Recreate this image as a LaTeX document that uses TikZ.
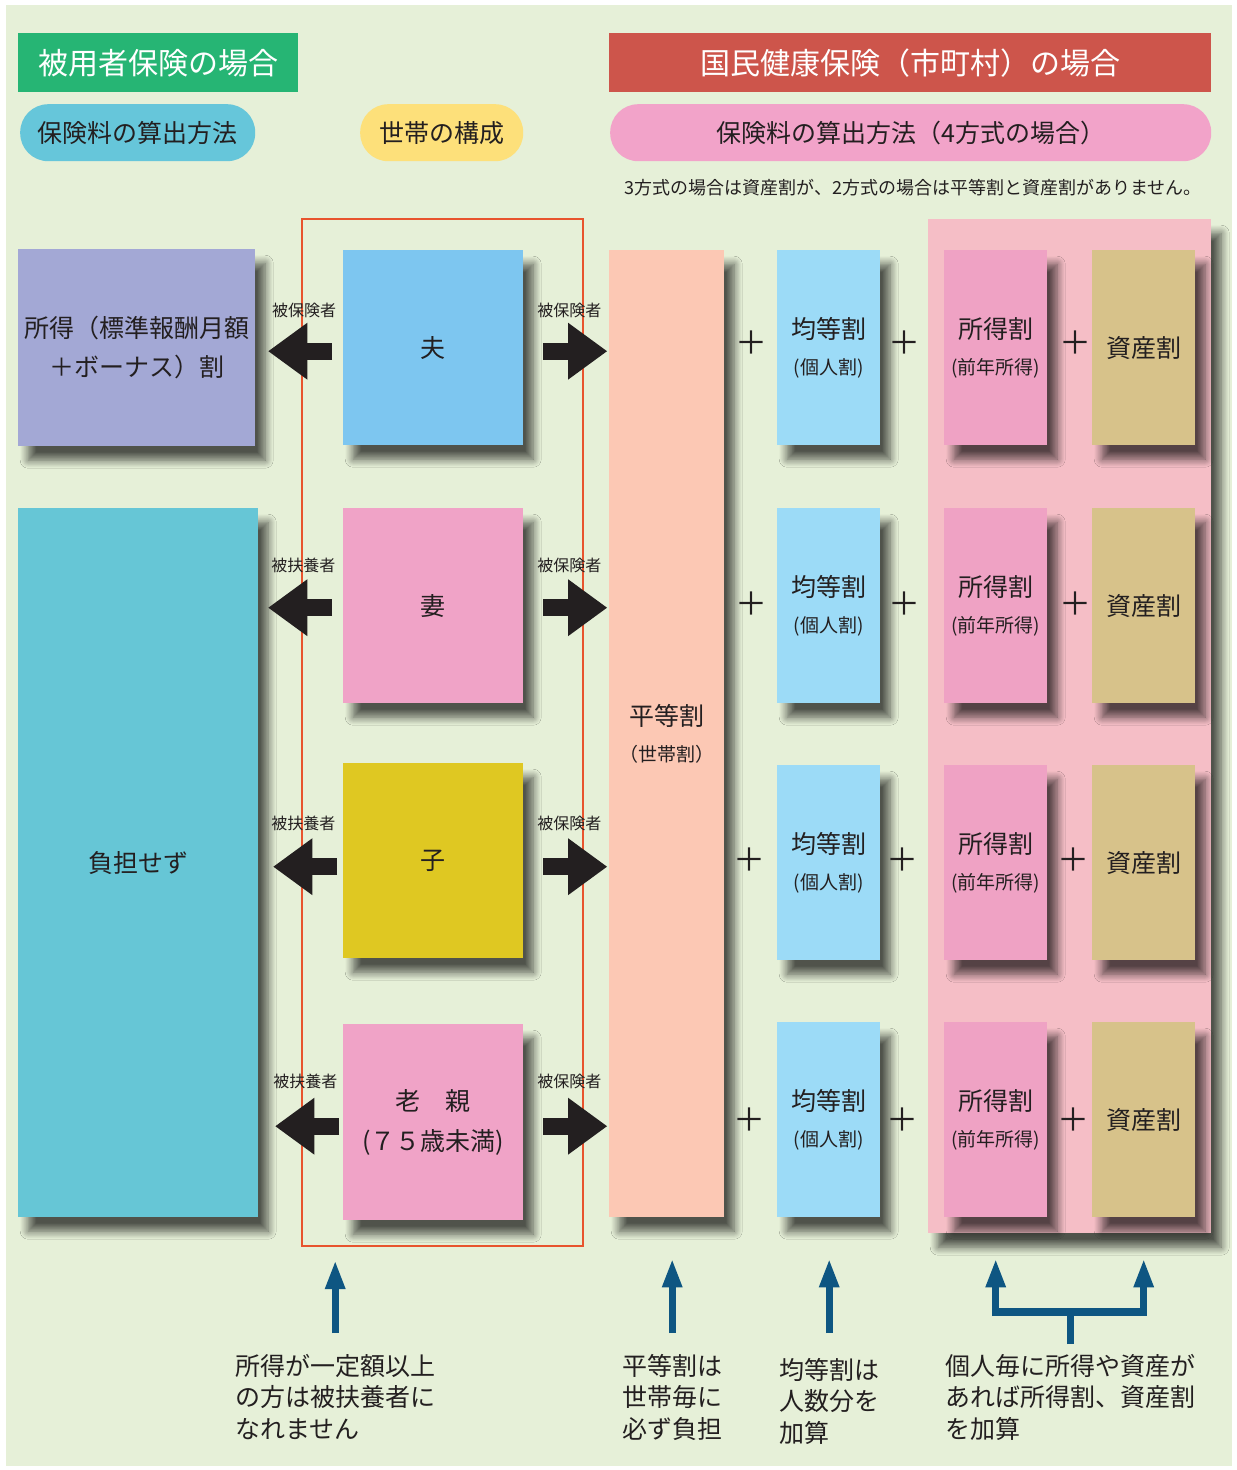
\documentclass[tikz,border=0pt]{standalone}
\usepackage{fontspec}
\setmainfont{Noto Sans CJK JP}
\usetikzlibrary{arrows.meta,shadows.blur,calc}
\definecolor{cBg}{HTML}{E6F0D8}
\definecolor{cTxt}{HTML}{231F20}
\definecolor{cGreen}{HTML}{26B574}
\definecolor{cRed}{HTML}{CD554B}
\definecolor{cBluePill}{HTML}{66C6DA}
\definecolor{cYellowPill}{HTML}{FDE07A}
\definecolor{cPinkPill}{HTML}{F2A3C9}
\definecolor{cPurple}{HTML}{A3A8D5}
\definecolor{cCyan}{HTML}{66C6D6}
\definecolor{cHusband}{HTML}{7DC6F0}
\definecolor{cPink}{HTML}{F0A3C7}
\definecolor{cChild}{HTML}{DFC822}
\definecolor{cByodo}{HTML}{FCC8B4}
\definecolor{cKinto}{HTML}{9CDBF7}
\definecolor{cShotoku}{HTML}{EFA2C4}
\definecolor{cShisan}{HTML}{D7C28A}
\definecolor{cPinkBg}{HTML}{F5BEC6}
\definecolor{cFrame}{HTML}{E8542E}
\definecolor{cDarkBlue}{HTML}{0E5682}
\begin{document}
\begin{tikzpicture}[x=1pt,y=-1pt,
  box/.style={draw=none, inner sep=0pt, anchor=north west, align=center, text=cTxt,
    font=\fontsize{25}{36}\selectfont},
  shad/.style={blur shadow={shadow xshift=10pt, shadow yshift=-14pt, shadow blur radius=8pt,
    shadow blur steps=10, shadow opacity=65}},
  hdr/.style={inner sep=0pt, anchor=north west, text=white, minimum height=59pt,
    font=\fontsize{30}{36}\selectfont},
  pill/.style={inner sep=0pt, anchor=north west, text=cTxt, minimum height=57pt,
    rounded corners=28pt, font=\fontsize{25}{30}\selectfont},
  colbox/.style={box, shad, minimum width=103pt, minimum height=195pt},
  rowbox/.style={box, shad, minimum width=180pt, minimum height=195pt},
  plus/.style={inner sep=0pt, text=cTxt, font=\fontsize{32}{32}\selectfont},
  blk/.style={draw=cTxt, line width=17pt, -{Triangle[width=57pt,length=39pt,line width=0pt]}},
  lbl/.style={inner sep=0pt, text=cTxt, font=\fontsize{16}{18}\selectfont},
  bluearr/.style={draw=cDarkBlue, line width=7pt, -{Triangle[width=21pt,length=27pt,line width=0pt]}},
  blueline/.style={draw=cDarkBlue, line width=7pt},
  note/.style={align=left, inner sep=0pt, anchor=north west, text=cTxt,
    font=\fontsize{25}{31.5}\selectfont}
]
\useasboundingbox (0,0) rectangle (1237,1470);
\fill[white] (0,0) rectangle (1237,1470);
\fill[cBg] (6,5) rectangle (1232,1466);

% headers
\node[hdr, fill=cGreen, minimum width=280pt] (h1) at (18,33) {被用者保険の場合};
\node[hdr, fill=cRed, minimum width=602pt] (h2) at (609,33) {国民健康保険（市町村）の場合};
\node[pill, fill=cBluePill, minimum width=235pt] (p1) at (20,104) {保険料の算出方法};
\node[pill, fill=cYellowPill, minimum width=163pt] (p2) at (360,104) {世帯の構成};
\node[pill, fill=cPinkPill, minimum width=601pt] (p3) at (610,104) {保険料の算出方法（4方式の場合）};
\node[inner sep=0pt, text=cTxt, font=\fontsize{18}{20}\selectfont] (memo) at (913,188)
  {3方式の場合は資産割が、2方式の場合は平等割と資産割がありません。};

% household frame and pink background
\node[draw=cFrame, line width=2pt, inner sep=0pt, anchor=north west,
  minimum width=281pt, minimum height=1027pt] (frame) at (301,218) {};
\node[box, shad, fill=cPinkBg, minimum width=283pt, minimum height=1014pt] (pinkbg) at (928,219) {};

% employee insurance column
\node[box, shad, fill=cPurple, minimum width=237pt, minimum height=197pt] (shotoku) at (18,249)
  {所得（標準報酬月額\\[3pt]＋ボーナス）割};
\node[box, shad, fill=cCyan, minimum width=240pt, minimum height=709pt] (futan) at (18,508) {負担せず};

% household members
\node[rowbox, fill=cHusband] (fu) at (343,250) {夫};
\node[rowbox, fill=cPink] (tsuma) at (343,508) {妻};
\node[rowbox, fill=cChild] (ko) at (343,763) {子};
\node[rowbox, fill=cPink, minimum height=196pt] (oya) at (343,1024) {老　親\\[4pt](７５歳未満)};

% national health insurance
\node[box, shad, fill=cByodo, minimum width=115pt, minimum height=967pt] (byodo) at (609,250)
  {平等割\\{\fontsize{19}{22}\selectfont （世帯割）}};

\foreach \i/\y in {1/250,2/508,3/765,4/1022}{
  \node[colbox, fill=cKinto] (kin\i) at (777,\y) {均等割\\{\fontsize{19}{22}\selectfont (個人割)}};
  \node[colbox, fill=cShotoku] (sho\i) at (944,\y) {所得割\\{\fontsize{19}{22}\selectfont (前年所得)}};
  \node[colbox, fill=cShisan] (shi\i) at (1092,\y) {資産割};
}

% plus signs
\foreach \i/\y/\dx in {1/343/0,2/604/0,3/860/-2,4/1120/-2}{
  \node[plus] (pa\i) at (751+\dx,\y) {＋};
  \node[plus] (pb\i) at (904+\dx,\y) {＋};
  \node[plus] (pc\i) at (1075+\dx,\y) {＋};
}

% block arrows
\draw[blk] ($(fu.west)+(-11,3.5)$) -- ($(shotoku.east |- fu.west)+(13,3.5)$)
  node[lbl, pos=0.44, yshift=41pt] {被保険者};
\draw[blk] ($(fu.east)+(20,3.5)$) -- ($(byodo.west |- fu.east)+(-2,3.5)$)
  node[lbl, pos=0.41, yshift=41pt] {被保険者};

\draw[blk] ($(tsuma.west)+(-11,2)$) -- ($(futan.east |- tsuma.west)+(10,2)$)
  node[lbl, pos=0.45, yshift=42pt] {被扶養者};
\draw[blk] ($(tsuma.east)+(20,2)$) -- ($(byodo.west |- tsuma.east)+(-2,2)$)
  node[lbl, pos=0.41, yshift=42pt] {被保険者};

\draw[blk] ($(ko.west)+(-6,6)$) -- ($(futan.east |- ko.west)+(15,6)$)
  node[lbl, pos=0.53, yshift=43pt] {被扶養者};
\draw[blk] ($(ko.east)+(20,6)$) -- ($(byodo.west |- ko.east)+(-2,6)$)
  node[lbl, pos=0.41, yshift=43pt] {被保険者};

\draw[blk] ($(oya.west)+(-4,4)$) -- ($(futan.east |- oya.west)+(17,4)$)
  node[lbl, pos=0.53, yshift=45pt] {被扶養者};
\draw[blk] ($(oya.east)+(20,4)$) -- ($(byodo.west |- oya.east)+(-2,4)$)
  node[lbl, pos=0.41, yshift=45pt] {被保険者};

% bottom notes
\node[note] (n1) at (235,1354) {所得が一定額以上\\の方は被扶養者に\\なれません};
\node[note] (n2) at (622,1354) {平等割は\\世帯毎に\\必ず負担};
\node[note] (n3) at (779,1358) {均等割は\\人数分を\\加算};
\node[note] (n4) at (945,1354) {個人毎に所得や資産が\\あれば所得割、資産割\\を加算};

% bottom arrows
\draw[bluearr] ($(n1.north)+(0,-21)$) -- ($(n1.north |- frame.south)+(0,15)$);
\draw[bluearr] ($(n2.north)+(0,-21)$) -- ($(n2.north |- byodo.south)+(0,43)$);
\draw[bluearr] ($(n3.north)+(0,-25)$) -- ($(n3.north |- kin4.south)+(0,43)$);
\draw[blueline] ($(n4.north)+(0,-10)$) -- ($(n4.north)+(0,-42)$);
\draw[blueline, line width=8pt] ($(sho4.south |- n4.north)+(-3.5,-42)$) -- ($(shi4.south |- n4.north)+(3.5,-42)$);
\draw[bluearr] ($(sho4.south |- n4.north)+(0,-38)$) -- ($(sho4.south |- pinkbg.south)+(0,27)$);
\draw[bluearr] ($(shi4.south |- n4.north)+(0,-38)$) -- ($(shi4.south |- pinkbg.south)+(0,27)$);
\end{tikzpicture}
\end{document}
